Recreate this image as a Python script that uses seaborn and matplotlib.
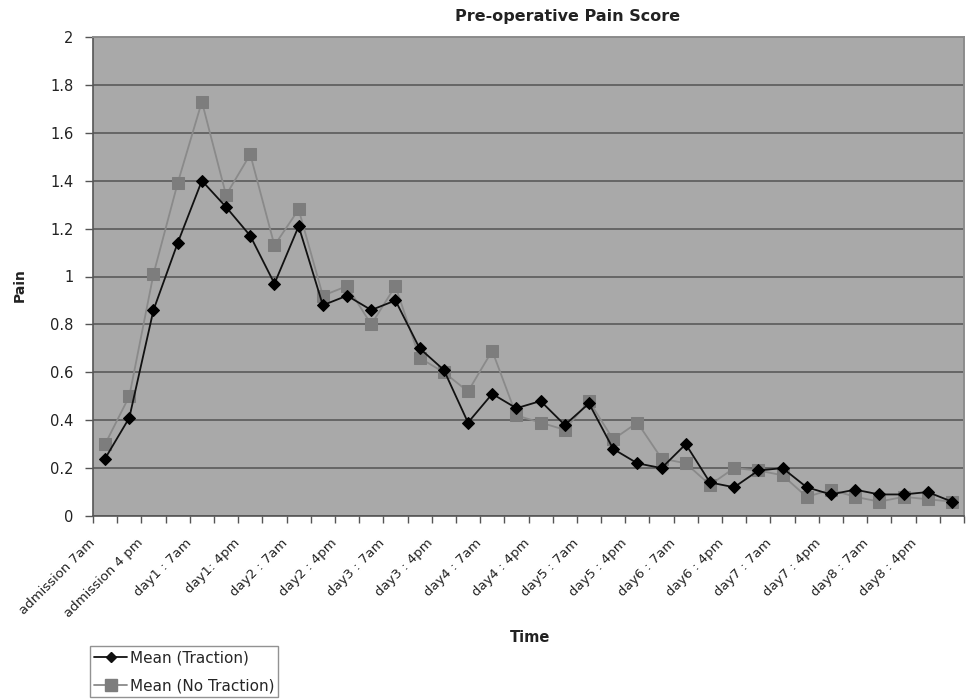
import numpy as np
import pandas as pd
import matplotlib
matplotlib.use("Agg")
import matplotlib.pyplot as plt
import matplotlib.transforms as mtransforms
import seaborn as sns

# ---- data ----
tick_labels = ["admission 7am", "admission 4 pm", "day1 : 7am", "day1: 4pm",
               "day2 : 7am", "day2 : 4pm", "day3 : 7am", "day3 : 4pm",
               "day4 : 7am", "day4 : 4pm", "day5 : 7am", "day5 : 4pm",
               "day6 : 7am", "day6 : 4pm", "day7 : 7am", "day7 : 4pm",
               "day8 : 7am", "day8 : 4pm"]
traction = [0.24, 0.41, 0.86, 1.14, 1.40, 1.29, 1.17, 0.97, 1.21, 0.88,
            0.92, 0.86, 0.90, 0.70, 0.61, 0.39, 0.51, 0.45, 0.48, 0.38,
            0.47, 0.28, 0.22, 0.20, 0.30, 0.14, 0.12, 0.19, 0.20, 0.12,
            0.09, 0.11, 0.09, 0.09, 0.10, 0.06]
no_traction = [0.30, 0.50, 1.01, 1.39, 1.73, 1.34, 1.51, 1.13, 1.28, 0.92,
               0.96, 0.80, 0.96, 0.66, 0.60, 0.52, 0.69, 0.42, 0.39, 0.36,
               0.48, 0.32, 0.39, 0.24, 0.22, 0.13, 0.20, 0.19, 0.17, 0.08,
               0.11, 0.08, 0.06, 0.08, 0.07, 0.06]
series_names = ["Mean (Traction)", "Mean (No Traction)"]

n = len(traction)
idx = np.arange(n)
df = pd.DataFrame({
    "Time": np.concatenate([idx, idx]),
    "Pain": np.concatenate([traction, no_traction]),
    "Series": [series_names[0]] * n + [series_names[1]] * n,
})

sns.set_style("white")
plt.rcParams["font.family"] = ["DejaVu Sans"]

fig = plt.figure(figsize=(9.69, 7.0), dpi=100)
ax = fig.add_axes([93 / 969, 1 - 516 / 700, (964 - 93) / 969, (516 - 37) / 700])
ax.set_facecolor("#a9a9a9")

sns.lineplot(data=df, x="Time", y="Pain", hue="Series", style="Series",
             palette={series_names[0]: "#111111", series_names[1]: "#8a8a8a"},
             markers={series_names[0]: "D", series_names[1]: "s"},
             dashes=False, ax=ax, linewidth=1.3, legend=False, zorder=3)
lines = ax.get_lines()
lines[0].set_markersize(6)
lines[0].set_markerfacecolor("#000000")
lines[0].set_markeredgecolor("#000000")
lines[1].set_markersize(8.5)
lines[1].set_markerfacecolor("#7d7d7d")
lines[1].set_markeredgecolor("#7d7d7d")
lines[1].set_zorder(2)
lines[0].set_zorder(4)

ax.set_xlim(-0.5, n - 0.5)
ax.set_ylim(0, 2)
ax.set_yticks(np.arange(0, 2.01, 0.2))
ax.set_yticklabels(["0", "0.2", "0.4", "0.6", "0.8", "1", "1.2", "1.4", "1.6", "1.8", "2"],
                   fontsize=10.5, color="#222222")
ax.yaxis.grid(True, color="#666666", linewidth=1.4)
ax.set_axisbelow(True)

ax.set_xticks(np.arange(-0.5, n, 1.0), minor=True)
ax.set_xticks(idx[::2])
ax.set_xticklabels(tick_labels, rotation=45, ha="right", va="center",
                   rotation_mode="anchor", fontsize=9.5, color="#222222")
ax.tick_params(axis="x", which="major", length=0, pad=18)
ax.tick_params(axis="x", which="minor", length=5, width=1, color="#555555", direction="out", bottom=True)
ax.tick_params(axis="y", which="major", length=6, width=1, color="#555555", direction="out", left=True, pad=8)
offset = mtransforms.ScaledTranslation(-9 / 72, 0, fig.dpi_scale_trans)
for lab in ax.get_xticklabels():
    lab.set_transform(lab.get_transform() + offset)

for s in ["left", "bottom"]:
    ax.spines[s].set_color("#555555")
    ax.spines[s].set_linewidth(1.2)
for s in ["top", "right"]:
    ax.spines[s].set_color("#8c8c8c")
    ax.spines[s].set_linewidth(1.4)

ax.set_xlabel("")
ax.set_ylabel("")
fig.text(568 / 969, 1 - 16 / 700, "Pre-operative Pain Score", ha="center", va="center",
         fontsize=11.5, fontweight="bold", color="#222222")
fig.text(20 / 969, 1 - 285 / 700, "Pain", rotation=90, ha="center", va="center",
         fontsize=10, fontweight="bold", color="#222222")
fig.text(530 / 969, 1 - 637 / 700, "Time", ha="center", va="center",
         fontsize=10.5, fontweight="bold", color="#222222")

handles = [plt.Line2D([], [], color="#111111", marker="D", markersize=5.5, linewidth=1.3),
           plt.Line2D([], [], color="#8a8a8a", marker="s", markersize=8,
                      markerfacecolor="#7d7d7d", markeredgecolor="#7d7d7d", linewidth=1.3)]
leg = fig.legend(handles, series_names, loc="lower left",
                 bbox_to_anchor=(90 / 969, 3 / 700), frameon=True, fancybox=False,
                 fontsize=11, handlelength=2.2, handletextpad=0.15, borderpad=0.25,
                 labelspacing=0.85, borderaxespad=0)
leg.get_frame().set_edgecolor("#777777")
leg.get_frame().set_linewidth(1.0)

fig.savefig("out.png", dpi=100, facecolor="white")
